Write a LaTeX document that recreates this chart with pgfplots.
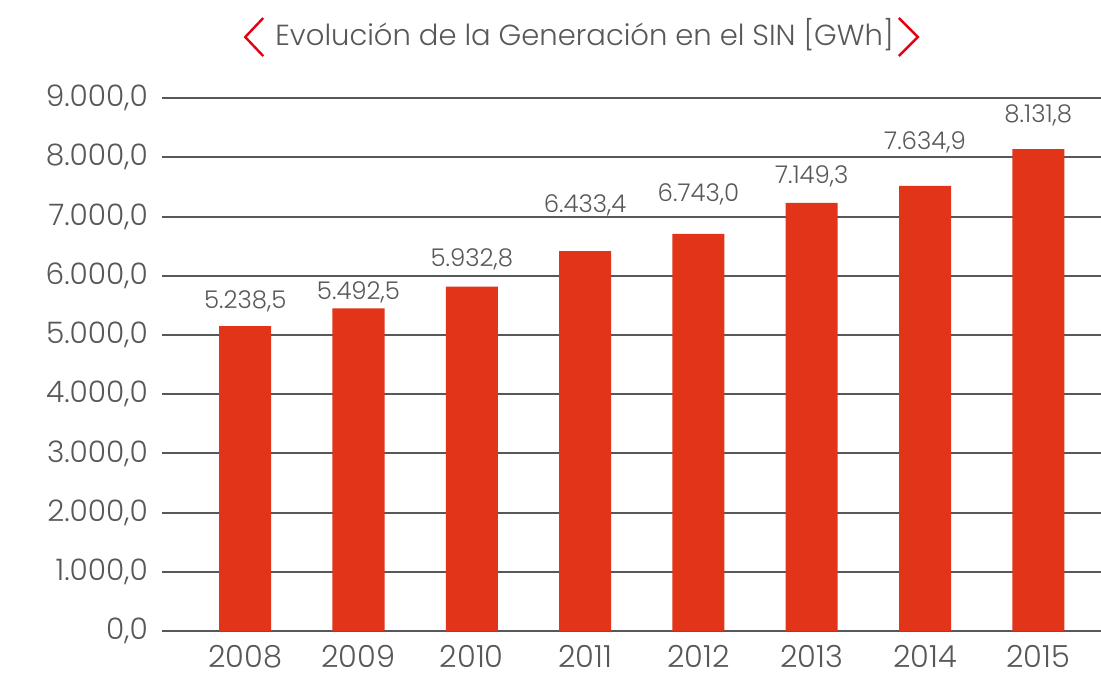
\documentclass[border=0pt]{standalone}
\usepackage{fontspec}
\setmainfont{Poppins}[UprightFont={* Light}]
\usepackage{pgfplots}
\pgfplotsset{compat=1.18}

\definecolor{barred}{RGB}{225,52,24}
\definecolor{txtgray}{RGB}{88,88,90}
\definecolor{gridgray}{RGB}{88,88,92}
\definecolor{chevred}{RGB}{226,0,18}

\begin{document}
\begin{tikzpicture}
\useasboundingbox (-81pt,-22.25pt) rectangle (469pt,315.25pt);
\begin{axis}[
  at={(0,0)}, anchor=south west,
  scale only axis,
  width=469pt, height=266.25pt,
  xmin=-0.733, xmax=7.553,
  ymin=0, ymax=9000,
  xtick={0,...,7},
  xticklabels={2008,2009,2010,2011,2012,2013,2014,2015},
  ytick={0,1000,...,9000},
  axis line style={draw=none},
  tick style={draw=none},
  ymajorgrids=true,
  grid style={gridgray, line width=1pt},
  /pgf/number format/.cd, fixed, fixed zerofill, precision=1,
    1000 sep={.}, use comma, assume math mode=true,
  /pgfplots/.cd,
  scaled y ticks=false,
  yticklabel style={font=\fontsize{14.8}{16}\selectfont, text=txtgray, xshift=-3.6pt},
  xticklabel style={font=\fontsize{15.2}{17}\selectfont, text=txtgray,
    inner sep=0pt, yshift=-7pt},
  clip=false,
]
% bar heights as drawn
\addplot[ybar, bar width=26pt, fill=barred, draw=none] coordinates {
  (0,5150) (1,5450) (2,5817) (3,6414) (4,6706) (5,7230) (6,7517) (7,8137)
};
% value labels (positions as in the reference)
\addplot[draw=none, mark=none, nodes near coords, point meta=explicit symbolic,
  every node near coord/.append style={anchor=center, inner sep=0pt,
    font=\fontsize{12.2}{14}\selectfont, text=txtgray}]
  table[meta=lab] {
x y lab
0 5569 5.238,5
1 5721 5.492,5
2 6284 5.932,8
3 7191 6.433,4
4 7377 6.743,0
5 7670 7.149,3
6 8256 7.634,9
7 8712 8.131,8
};
\end{axis}
\node[text=txtgray, font=\fontsize{14.5}{16}\selectfont] at (211pt,297.75pt)
  {Evolución de la Generación en el SIN [GWh]};
\draw[chevred, line width=1.2pt] (50.5pt,306.25pt) -- (41.5pt,296.75pt) -- (50.5pt,287.25pt);
\draw[chevred, line width=1.2pt] (368pt,306.25pt) -- (377.5pt,296.75pt) -- (368pt,287.25pt);
\end{tikzpicture}
\end{document}
